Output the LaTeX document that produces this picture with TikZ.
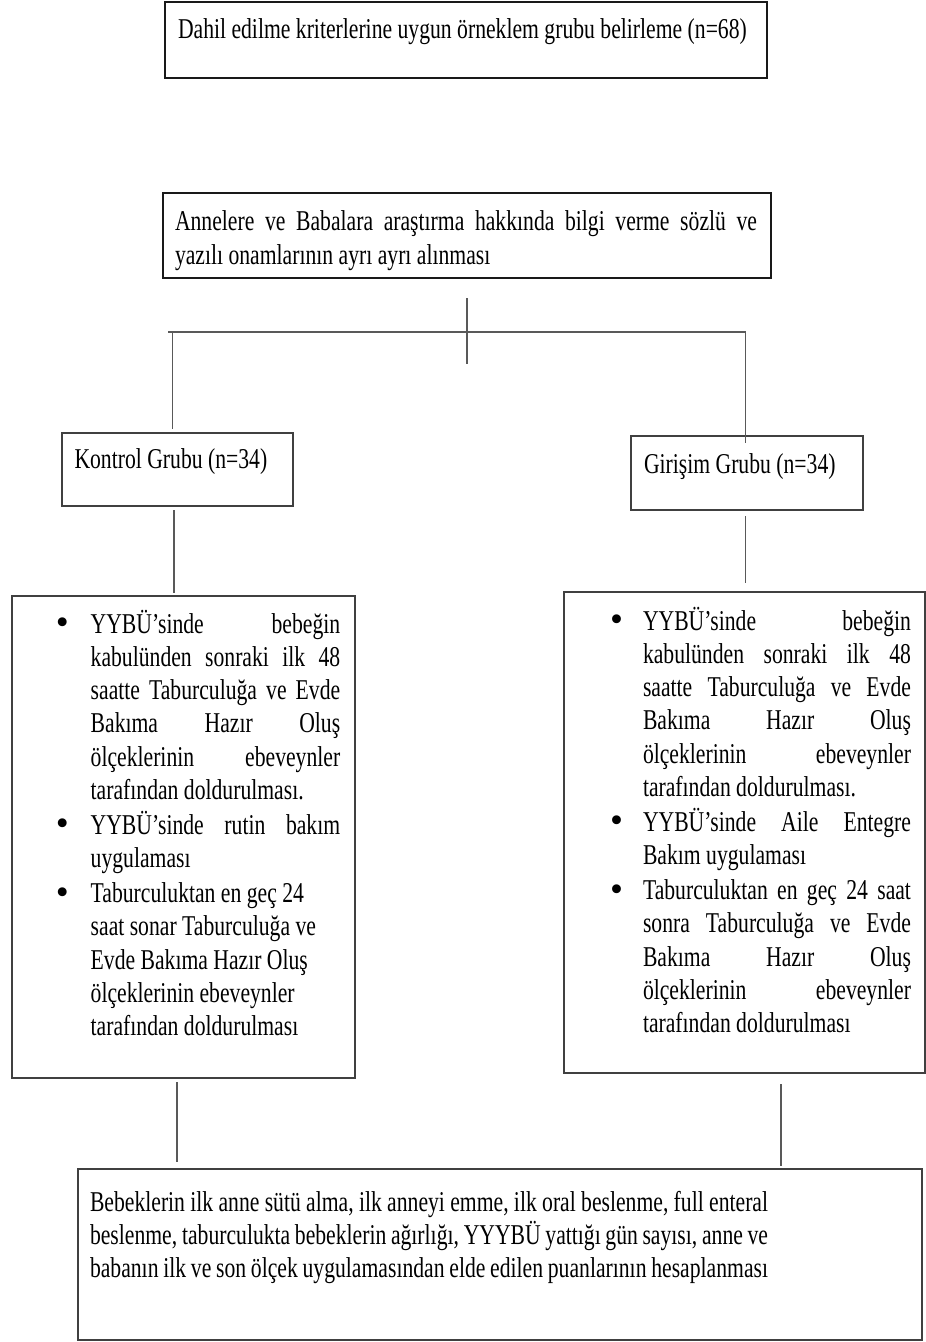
\documentclass[tikz,border=0pt]{standalone}
\usepackage{fontspec}
\setmainfont{Liberation Serif}[FakeStretch=0.755]
\newfontfamily\bulletfont{Liberation Serif}
\newcommand{\flowfont}{\fontsize{28.7}{33.3}\selectfont}
% paragraph settings for the justified blocks
\newcommand{\parsetup}{\tolerance=10000\hbadness=10000\hyphenpenalty=10000\exhyphenpenalty=10000\setlength{\parskip}{1.5pt}\setlength{\parindent}{0pt}}
\newcommand{\itemmark}[1]{\leavevmode\llap{\makebox[#1][c]{\raisebox{-1.6pt}{\bulletfont\fontsize{37}{37}\selectfont\textbullet}}}}
\begin{document}
\begin{tikzpicture}[x=1pt,y=-1pt,
  box/.style={rectangle,anchor=north west,inner sep=0pt,outer sep=0pt,draw=black!75,line width=1.3pt},
  heavy/.style={draw=black!90,line width=2.5pt},
  txt/.style={anchor=base west,inner sep=0pt,outer sep=0pt,font=\flowfont,text=black},
  block/.style={txt,align=justify},
  link/.style={draw=black!65,line width=1.1pt}]
\useasboundingbox (0,0) rectangle (926,1342);

% boxes
\node[box,heavy,minimum width=602pt,minimum height=76pt] (start) at (165,2) {};
\node[box,heavy,minimum width=608pt,minimum height=85pt] (consent) at (163,193) {};
\node[box,minimum width=231pt,minimum height=73pt] (control) at (62,433) {};
\node[box,minimum width=232pt,minimum height=74pt] (interv) at (631,436) {};
\node[box,minimum width=343pt,minimum height=482pt] (ctrlsteps) at (12,596) {};
\node[box,minimum width=361pt,minimum height=481pt] (intsteps) at (564,592) {};
\node[box,minimum width=844pt,minimum height=171pt] (outcome) at (78,1169) {};

% texts
\node[txt] (starttext) at (178,38.7) {Dahil edilme kriterlerine uygun örneklem grubu belirleme (n=68)};

\node[block,text width=582pt] (consenttext) at (175,230.7) {\parsetup
Annelere ve Babalara araştırma hakkında bilgi verme sözlü ve\linebreak
yazılı onamlarının ayrı ayrı alınması};

\node[txt] (controltext) at (74.5,468.5) {Kontrol Grubu (n=34)};
\node[txt] (intervtext) at (644,473) {Girişim Grubu (n=34)};

\node[block,text width=249.5pt] (ctrltext) at (90.7,633) {\parsetup
\itemmark{56.8pt}YYBÜ’sinde bebeğin\linebreak
kabulünden sonraki ilk 48\linebreak
saatte Taburculuğa ve Evde\linebreak
Bakıma Hazır Oluş\linebreak
ölçeklerinin ebeveynler\linebreak
tarafından doldurulması.\par
\itemmark{56.8pt}YYBÜ’sinde rutin bakım\linebreak
uygulaması\par
\itemmark{56.8pt}Taburculuktan en geç 24\newline
saat sonar Taburculuğa ve\newline
Evde Bakıma Hazır Oluş\newline
ölçeklerinin ebeveynler\newline
tarafından doldurulması};

\node[block,text width=268pt] (inttext) at (643,630) {\parsetup
\itemmark{52.6pt}YYBÜ’sinde bebeğin\linebreak
kabulünden sonraki ilk 48\linebreak
saatte Taburculuğa ve Evde\linebreak
Bakıma Hazır Oluş\linebreak
ölçeklerinin ebeveynler\linebreak
tarafından doldurulması.\par
\itemmark{52.6pt}YYBÜ’sinde Aile Entegre\linebreak
Bakım uygulaması\par
\itemmark{52.6pt}Taburculuktan en geç 24 saat\linebreak
sonra Taburculuğa ve Evde\linebreak
Bakıma Hazır Oluş\linebreak
ölçeklerinin ebeveynler\linebreak
tarafından doldurulması};

\node[block,text width=678pt] (outcometext) at (90,1211) {\parsetup
Bebeklerin ilk anne sütü alma, ilk anneyi emme, ilk oral beslenme, full enteral\linebreak
beslenme, taburculukta bebeklerin ağırlığı, YYYBÜ yattığı gün sayısı, anne ve\linebreak
babanın ilk ve son ölçek uygulamasından elde edilen puanlarının hesaplanması};

% branching connector below the consent box
\path (consent.south) ++(0,20) coordinate (ct);
\path (ct) ++(0,66) coordinate (cb);
\coordinate (hl) at (168,332);
\coordinate (hr) at (745.5,332);
\coordinate (lt) at (172.5,332);
\draw[link] (ct) -- (cb);
\draw[link] (hl) -- (hr);
\draw[link,shorten >=4pt] (lt) -- (lt |- control.north);
\draw[link,shorten >=-7pt] (hr) -- (hr |- interv.north);

% group boxes to their step lists
\path (control.south) ++(-3.5,4) coordinate (c1);
\draw[link,shorten >=3pt] (c1) -- (c1 |- ctrlsteps.north);
\path (interv.south) ++(-1.7,6) coordinate (i1);
\draw[link,shorten >=9pt] (i1) -- (i1 |- intsteps.north);

% step lists to the outcome box
\path (ctrlsteps.south) ++(-6.5,4) coordinate (c2);
\draw[link,shorten >=7pt] (c2) -- (c2 |- outcome.north);
\path (intsteps.south) ++(36.5,11) coordinate (i2);
\draw[link,shorten >=3pt] (i2) -- (i2 |- outcome.north);
\end{tikzpicture}
\end{document}
